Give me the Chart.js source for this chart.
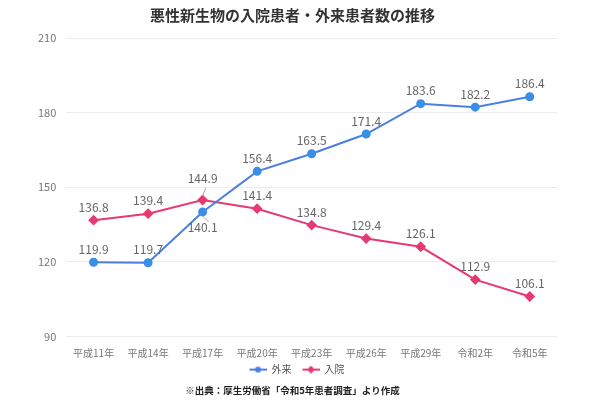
<!DOCTYPE html>
<html>
<head>
<meta charset="utf-8">
<script src="https://cdn.jsdelivr.net/npm/chart.js@4"></script>
<style>
  html, body { margin: 0; padding: 0; background: #fff; }
  #wrap { width: 600px; height: 410px; }
</style>
</head>
<body>
<div id="wrap"><canvas id="chart"></canvas></div>
<script>
const labels = ["平成11年", "平成14年", "平成17年", "平成20年", "平成23年", "平成26年", "平成29年", "令和2年", "令和5年"];
const outpatient = [119.9, 119.7, 140.1, 156.4, 163.5, 171.4, 183.6, 182.2, 186.4];
const inpatient = [136.8, 139.4, 144.9, 141.4, 134.8, 129.4, 126.1, 112.9, 106.1];
const yTicks = [90, 120, 150, 180, 210];

const FONT = '"Noto Sans CJK JP", "Noto Sans", sans-serif';
const BLUE = "#4a7fe3";
const BLUE_PT = "#3b8ee8";
const PINK = "#e63a70";

// small legend icons: line with marker in the middle, blank margin on the left
function legendIcon(color, shape) {
  const c = document.createElement("canvas");
  c.width = 26; c.height = 8;
  const ctx = c.getContext("2d");
  ctx.strokeStyle = color;
  ctx.lineWidth = 2;
  ctx.beginPath(); ctx.moveTo(9, 4); ctx.lineTo(26, 4); ctx.stroke();
  ctx.fillStyle = color;
  ctx.beginPath();
  if (shape === "circle") {
    ctx.arc(17.5, 4, 3, 0, Math.PI * 2);
  } else {
    ctx.moveTo(17.5, 0); ctx.lineTo(21.5, 4); ctx.lineTo(17.5, 8); ctx.lineTo(13.5, 4); ctx.closePath();
  }
  ctx.fill();
  return c;
}

// value labels drawn above each point; a few are moved to avoid overlaps
const valueLabels = {
  id: "valueLabels",
  afterDatasetsDraw(chart) {
    const ctx = chart.ctx;
    ctx.save();
    ctx.font = "12px " + FONT;
    ctx.fillStyle = "#666";
    ctx.textAlign = "center";
    chart.data.datasets.forEach((ds, i) => {
      const meta = chart.getDatasetMeta(i);
      const moves = ds.labelMoves || {};
      meta.data.forEach((pt, j) => {
        const mv = moves[j];
        let dy = -7;
        if (mv) {
          dy = mv.dy;
          ctx.strokeStyle = "#aaa";
          ctx.lineWidth = 1;
          ctx.beginPath();
          ctx.moveTo(pt.x, pt.y + (dy < 0 ? -4 : 4));
          ctx.lineTo(pt.x + mv.lx, pt.y + mv.ly);
          ctx.stroke();
        }
        ctx.textBaseline = dy < 0 ? "bottom" : "top";
        ctx.fillText(ds.data[j].toFixed(1), pt.x, pt.y + dy);
      });
    });
    ctx.restore();
  }
};

new Chart(document.getElementById("chart"), {
  type: "line",
  data: {
    labels: labels,
    datasets: [
      {
        label: "外来",
        data: outpatient,
        borderColor: BLUE,
        backgroundColor: BLUE_PT,
        pointBackgroundColor: BLUE_PT,
        pointBorderColor: BLUE_PT,
        pointStyle: "circle",
        pointRadius: 3.5,
        borderWidth: 2,
        tension: 0,
        labelMoves: { 2: { dy: 10, lx: 6, ly: 10 } },
        legendIcon: legendIcon(BLUE, "circle")
      },
      {
        label: "入院",
        data: inpatient,
        borderColor: PINK,
        backgroundColor: PINK,
        pointBackgroundColor: PINK,
        pointBorderColor: PINK,
        pointStyle: "rectRot",
        pointRadius: 4,
        borderWidth: 2,
        tension: 0,
        labelMoves: { 2: { dy: -16, lx: 3, ly: -12 } },
        legendIcon: legendIcon(PINK, "diamond")
      }
    ]
  },
  options: {
    responsive: true,
    maintainAspectRatio: false,
    animation: false,
    layout: { padding: { left: 28, right: 43, top: 0, bottom: 12 } },
    plugins: {
      title: {
        display: true,
        text: "悪性新生物の入院患者・外来患者数の推移",
        color: "#333",
        font: { family: FONT, size: 15, weight: "bold" },
        padding: { top: 6, bottom: 14 }
      },
      subtitle: {
        display: true,
        position: "bottom",
        text: "※出典：厚生労働省「令和5年患者調査」より作成",
        color: "#222",
        font: { family: FONT, size: 9.5, weight: "bold" },
        padding: { top: 0, bottom: 2 }
      },
      legend: {
        position: "bottom",
        labels: {
          usePointStyle: true,
          pointStyleWidth: 26,
          color: "#555",
          font: { family: FONT, size: 10 },
          padding: 2,
          generateLabels(chart) {
            return chart.data.datasets.map((ds, i) => ({
              text: ds.label,
              pointStyle: ds.legendIcon,
              fillStyle: ds.borderColor,
              strokeStyle: ds.borderColor,
              fontColor: "#555",
              datasetIndex: i,
              hidden: false
            }));
          }
        }
      },
      tooltip: { enabled: false }
    },
    scales: {
      x: {
        offset: true,
        grid: { display: false },
        border: { display: false },
        ticks: { color: "#777", font: { family: FONT, size: 10 }, padding: 3 }
      },
      y: {
        min: 90,
        max: 210,
        afterBuildTicks(axis) { axis.ticks = yTicks.map(v => ({ value: v })); },
        grid: { color: "#ececec", drawTicks: false },
        border: { display: false },
        ticks: { color: "#777", font: { family: FONT, size: 11 }, padding: 10 }
      }
    }
  },
  plugins: [valueLabels]
});
</script>
</body>
</html>
